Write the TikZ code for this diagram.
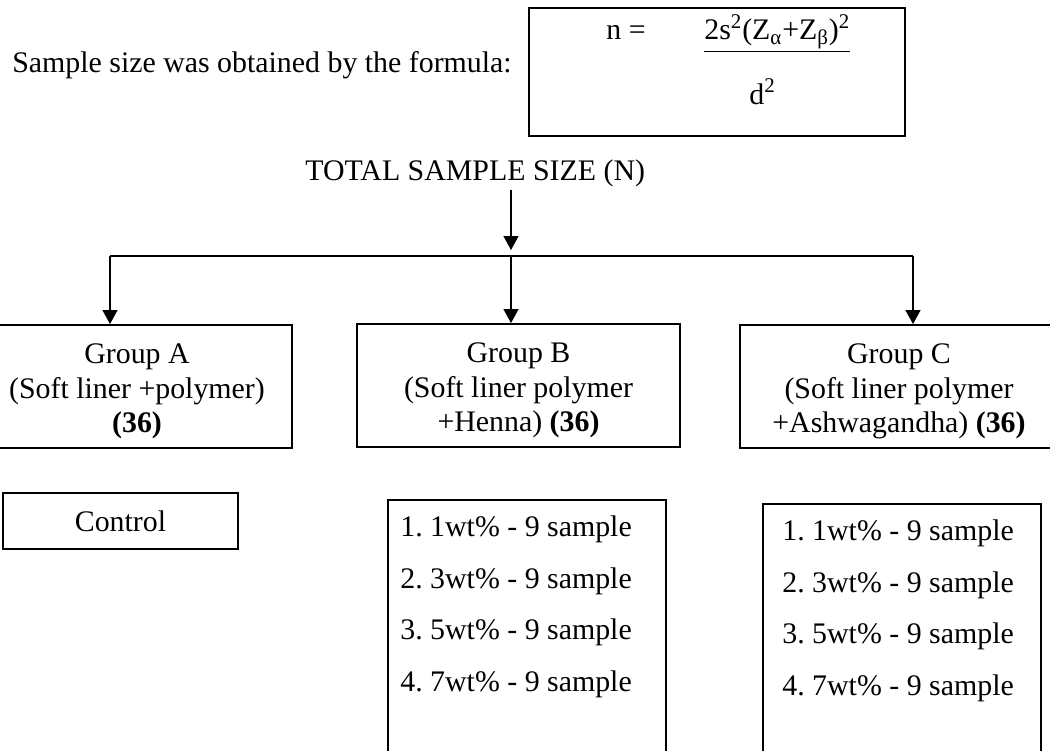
\documentclass[tikz,border=0pt]{standalone}
\usepackage{fontspec}
\setmainfont{Liberation Serif}
\usetikzlibrary{arrows.meta}
\frenchspacing

\begin{document}
\begin{tikzpicture}[x=0.02cm,y=-0.02cm,
  font=\fontsize{17}{19.6}\selectfont,
  box/.style={draw,line width=1.1pt,inner sep=0pt,align=center},
  grptext/.style={inner sep=0pt,align=center,yshift=-0.1cm},
  listtext/.style={anchor=north west,inner sep=0pt,align=left,font=\fontsize{17}{29.4}\selectfont},
  arr/.style={line width=0.75pt,-{Triangle[length=0.28cm,width=0.3cm]}}]
\useasboundingbox (0,0) rectangle (1050,750);
% formula
\node[anchor=base west,inner sep=0pt] (intro) at (12,72) {Sample size was obtained by the formula:};
\node[box,minimum width=7.52cm,minimum height=2.56cm] (fbox) at (717,72) {};
\node[anchor=base west,inner sep=0pt] (neq) at (606,40) {n =};
\node[anchor=base west,inner sep=0pt] (numer) at (704,40)
  {\underline{2s\textsuperscript{2}(Z\textsubscript{α}+Z\textsubscript{β})\textsuperscript{2}}};
\node[anchor=base west,inner sep=0pt] (denom) at (749,104) {d\textsuperscript{2}};
% split
\node[anchor=base west,inner sep=0pt] (total) at (305,180) {TOTAL SAMPLE SIZE (N)};
\coordinate (split) at (511,256);
\coordinate (ca) at (110,256);
\coordinate (cc) at (913,256);
\node[box,minimum width=6.2cm,minimum height=2.46cm] (grpA) at (137,386.5) {};
\node[box,minimum width=6.46cm,minimum height=2.46cm] (grpB) at (518.5,385.5) {};
\node[box,minimum width=6.36cm,minimum height=2.46cm] (grpC) at (899,386.5) {};
\node[grptext] (grpAtext) at (grpA.center) {Group A\\(Soft liner +polymer)\\\textbf{(36)}};
\node[grptext] (grpBtext) at (grpB.center) {Group B\\(Soft liner polymer\\+Henna) \textbf{(36)}};
\node[grptext] (grpCtext) at (grpC.center) {Group C\\(Soft liner polymer\\+Ashwagandha) \textbf{(36)}};
\draw[arr,shorten <=0.06cm,shorten >=0.12cm] (split |- total.south) -- (split);
\draw[line width=0.75pt] (ca) -- (cc);
\draw[arr] (ca) -- (ca |- grpA.north);
\draw[arr] (split) -- (split |- grpB.north);
\draw[arr] (cc) -- (cc |- grpC.north);
% subgroups
\node[box,minimum width=4.7cm,minimum height=1.12cm] (ctrl) at (120.5,521) {Control};
\node[box,minimum width=5.56cm,minimum height=5.22cm,anchor=north west] (blist) at (387,499) {};
\node[box,minimum width=5.56cm,minimum height=5.14cm,anchor=north west] (clist) at (762,503) {};
\node[listtext] (btext) at (400,515.5)
  {1. 1wt\% - 9 sample\\2. 3wt\% - 9 sample\\3. 5wt\% - 9 sample\\4. 7wt\% - 9 sample};
\node[listtext] (ctext) at (782,519.5)
  {1. 1wt\% - 9 sample\\2. 3wt\% - 9 sample\\3. 5wt\% - 9 sample\\4. 7wt\% - 9 sample};
\end{tikzpicture}
\end{document}
